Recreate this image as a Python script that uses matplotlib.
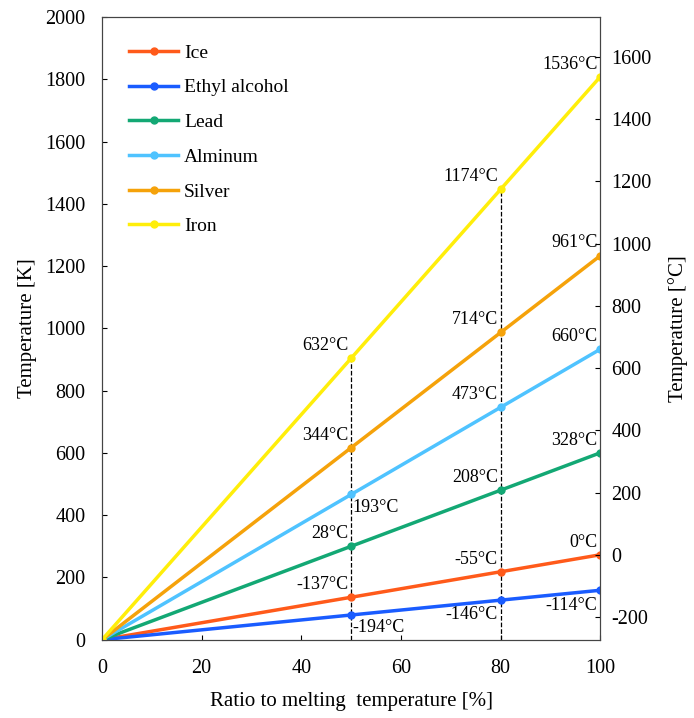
import numpy as np
import matplotlib
matplotlib.use("Agg")
import matplotlib.pyplot as plt

plt.rcParams['font.family'] = ['Liberation Serif', 'DejaVu Serif']
plt.rcParams['axes.unicode_minus'] = False

# ratio to melting temperature [%]
ratio = [0, 50, 80, 100]
names = ['Ice', 'Ethyl alcohol', 'Lead', 'Alminum', 'Silver', 'Iron']
melt_k = [273, 159, 600.6, 933.5, 1234, 1809]
colors = ['#FF5A1A', '#1A5CFF', '#13A874', '#4FC3FF', '#F5A20A', '#FFEE0A']

# labels (°C) at 50, 80, 100 %
labels = {
    'Ice': ['-137°C', '-55°C', '0°C'],
    'Ethyl alcohol': ['-194°C', '-146°C', '-114°C'],
    'Lead': ['28°C', '208°C', '328°C'],
    'Alminum': ['193°C', '473°C', '660°C'],
    'Silver': ['344°C', '714°C', '961°C'],
    'Iron': ['632°C', '1174°C', '1536°C'],
}
# offsets (points) for each label
up = (-2, 3, 'right', 'bottom')
offsets = {
    'Ice': [up, up, up],
    'Ethyl alcohol': [(1, -3, 'left', 'top'), (-2, -4, 'right', 'top'), (-2, -5, 'right', 'top')],
    'Lead': [up, up, up],
    'Alminum': [(1, -3, 'left', 'top'), up, up],
    'Silver': [up, up, up],
    'Iron': [up, up, up],
}

fig = plt.figure(figsize=(6.94, 7.18), dpi=100)
ax = fig.add_axes([0.147, 0.109, 0.718, 0.867])

for name, tm, c in zip(names, melt_k, colors):
    y = [tm * r / 100 for r in ratio]
    ax.plot(ratio, y, color=c, lw=2.5, marker='o', ms=5, label=name, zorder=3)
    for i, r in enumerate(ratio[1:]):
        dx, dy, ha, va = offsets[name][i]
        ax.annotate(labels[name][i], (r, y[i + 1]), xytext=(dx, dy),
                    textcoords='offset points', ha=ha, va=va, fontsize=13)

iron = melt_k[-1]
for r in [50, 80]:
    ax.plot([r, r], [0, iron * r / 100], 'k--', lw=0.9, zorder=2)

ax.set_xlim(0, 100)
ax.set_ylim(0, 2000)
ax.set_xticks(range(0, 101, 20))
ax.set_yticks(range(0, 2001, 200))
ax.tick_params(direction='in', labelsize=14.5)
ax.tick_params(axis='x', pad=14)
ax.tick_params(axis='y', pad=12)
ax.set_xlabel('Ratio to melting  temperature [%]', fontsize=15, labelpad=10)
ax.set_ylabel('Temperature [K]', fontsize=15, labelpad=6)

ax2 = ax.twinx()
ax2.set_ylim(-273, 1727)
ax2.set_yticks(range(-200, 1601, 200))
ax2.tick_params(direction='in', labelsize=14.5, pad=8)
ax2.set_ylabel('Temperature [°C]', fontsize=15, labelpad=12)

for a in (ax, ax2):
    for s in a.spines.values():
        s.set_color('#444444')

leg = ax.legend(loc='upper left', bbox_to_anchor=(0.02, 0.985), frameon=False,
                fontsize=14, handlelength=2.5, labelspacing=0.88, handletextpad=0.3)

fig.savefig('out.png', dpi=100)
